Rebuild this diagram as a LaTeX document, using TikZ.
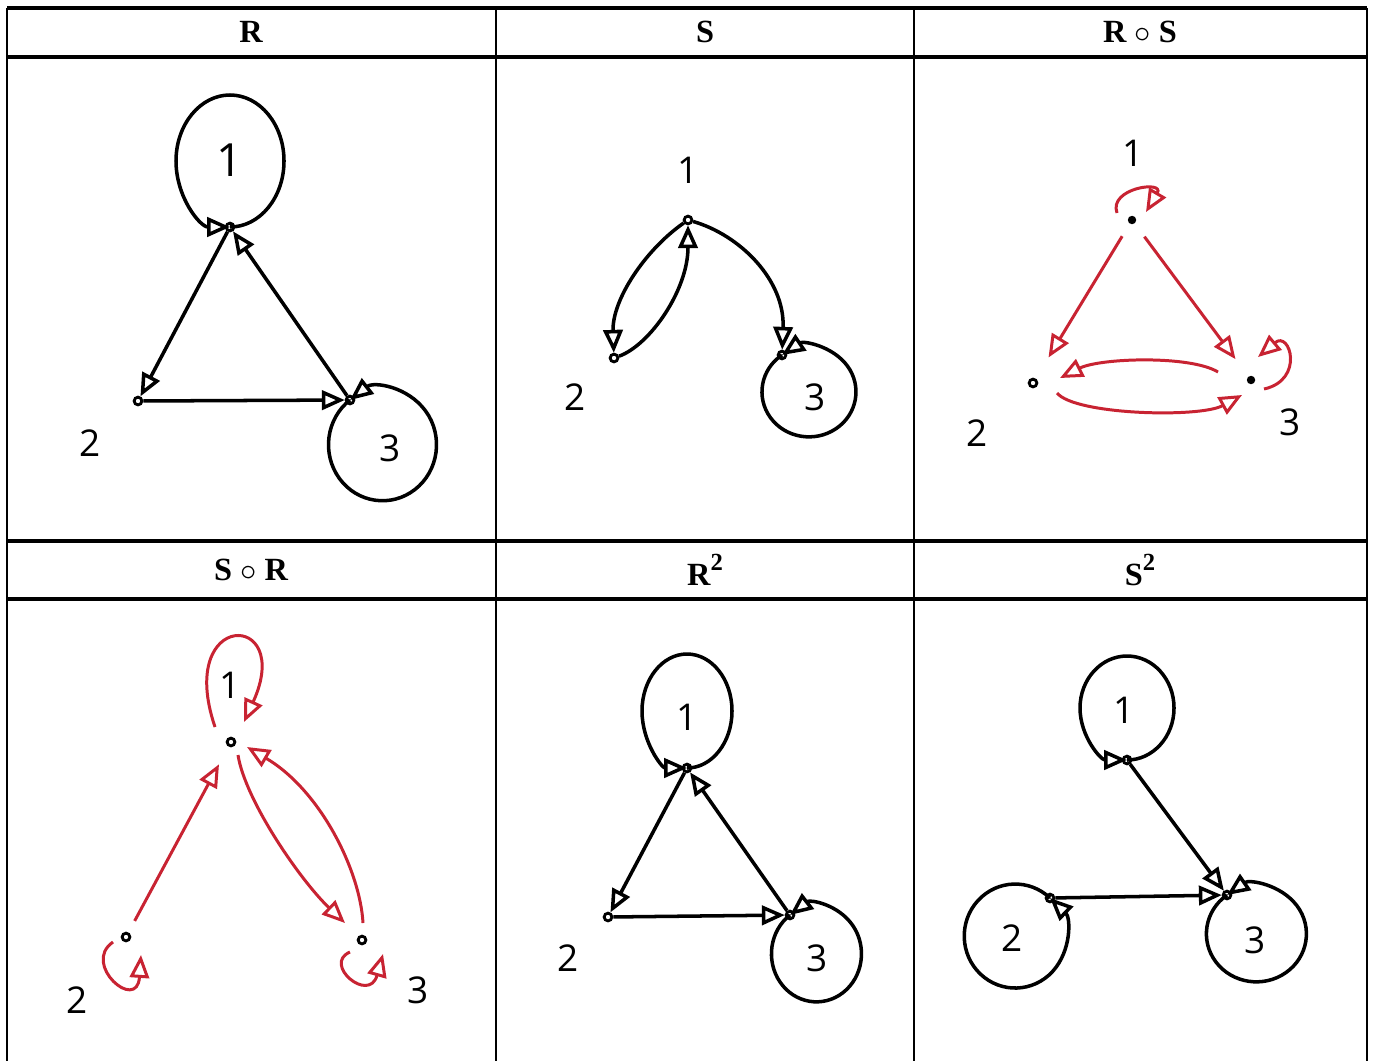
\documentclass[tikz,border=0pt]{standalone}
\usepackage{fontspec}
\setmainfont{Liberation Serif}
\newfontfamily\handfont{Open Sans}
\usetikzlibrary{arrows.meta}
\definecolor{relRed}{RGB}{200,35,50}
\tikzset{
  tablerule/.style={line width=0.6pt},
  headtext/.style={font=\bfseries\fontsize{9.2}{11}\selectfont},
  lbl/.style={font=\handfont\fontsize{10.5}{12}\selectfont},
  vtx/.style={circle, draw, line width=0.8pt, inner sep=0pt, minimum size=2.2pt},
  dotv/.style={circle, fill, inner sep=0pt, minimum size=2.4pt},
  relarrow/.style={line width=1pt, -{Triangle[open,length=6.5pt,width=5.5pt]}},
  redarrow/.style={relarrow, draw=relRed, line width=0.85pt}
}
\begin{document}
\begin{tikzpicture}[x=0.01cm, y=-0.01cm]
  \fill[white] (0,0) rectangle (1374,1061);
  % table rules
  \foreach \y in {8,57,541,599}
    \draw[tablerule, line width=0.9pt] (7,\y) -- (1367,\y);
  \foreach \x in {7,496,914,1367}
    \draw[tablerule] (\x,8) -- (\x,1061);
  % headers
  \node[headtext] (hR) at (251,32) {R};
  \node[headtext] (hS) at (705,32) {S};
  \node[headtext] (hRS) at (1140,32) {R $\circ$ S};
  \node[headtext] (hSR) at (251,570) {S $\circ$ R};
  \node[headtext] (hRR) at (705,570) {R\raisebox{0.45em}{\fontsize{7}{8}\selectfont 2}};
  \node[headtext] (hSS) at (1140,570) {S\raisebox{0.45em}{\fontsize{7}{8}\selectfont 2}};

  % R
  \node[vtx] (r1) at (230,227) {};
  \node[vtx] (r2) at (138,401) {};
  \node[vtx] (r3) at (350,400) {};
  \node[lbl, font=\handfont\fontsize{13}{15}\selectfont] (r1l) at (230,160) {1};
  \node[lbl] (r2l) at (90,443) {2};
  \node[lbl] (r3l) at (390,448) {3};
  \draw[relarrow] (r1) arc[start angle=90, end angle=-270, x radius=54, y radius=66];
  \draw[relarrow] (r3) arc[start angle=233, end angle=-127, x radius=54, y radius=56];
  \draw[relarrow] (r1) -- (r2);
  \draw[relarrow] (r2) -- (r3);
  \draw[relarrow] (r3) -- (r1);

  % S
  \node[vtx] (s1) at (688,220) {};
  \node[vtx] (s2) at (614,358) {};
  \node[vtx] (s3) at (782,355) {};
  \node[lbl] (s1l) at (688,170) {1};
  \node[lbl] (s2l) at (575,397) {2};
  \node[lbl] (s3l) at (815,397) {3};
  \draw[relarrow] (s1) .. controls (645,250) and (612,300) .. (s2);
  \draw[relarrow] (s2) .. controls (650,345) and (688,290) .. (s1);
  \draw[relarrow] (s1) .. controls (740,235) and (785,280) .. (s3);
  \draw[relarrow] (s3) arc[start angle=235, end angle=-125, x radius=47, y radius=45];

  % R o S
  \node[dotv] (rs1) at (1132,220) {};
  \node[vtx] (rs2) at (1033,383) {};
  \node[dotv] (rs3) at (1251,380) {};
  \node[lbl] (rs1l) at (1133,153) {1};
  \node[lbl] (rs2l) at (977,433) {2};
  \node[lbl] (rs3l) at (1290,422) {3};
  \draw[redarrow] ([shift={(-15,-7)}]rs1.center) .. controls +(-9,-25) and +(19,-32) .. ([shift={(14,-8)}]rs1.center);
  \draw[redarrow, shorten <=4pt, shorten >=7pt] (rs1) -- (rs2);
  \draw[redarrow, shorten <=4.5pt, shorten >=6pt] (rs1) -- (rs3);
  \draw[redarrow] ([shift={(-33,-8)}]rs3.center) .. controls +(-28,-17) and +(40,-20) .. ([shift={(27,-5)}]rs2.center);
  \draw[redarrow] ([shift={(24,10)}]rs2.center) .. controls +(18,22) and +(-42,23) .. ([shift={(-9,15)}]rs3.center);
  \draw[redarrow] ([shift={(13,9)}]rs3.center) .. controls +(41,-9) and +(32,-27) .. ([shift={(7,-23)}]rs3.center);

  % S o R
  \node[vtx] (sr1) at (231,742) {};
  \node[vtx] (sr2) at (126,937) {};
  \node[vtx] (sr3) at (362,940) {};
  \node[lbl] (sr1l) at (230,685) {1};
  \node[lbl] (sr2l) at (77,1000) {2};
  \node[lbl] (sr3l) at (418,990) {3};
  \draw[redarrow] ([shift={(-16,-15)}]sr1.center) .. controls +(-40,-118) and +(51,-112) .. ([shift={(13,-20)}]sr1.center);
  \draw[redarrow] ([shift={(-13,5)}]sr2.center) .. controls +(-32,22) and +(-4,58) .. ([shift={(15,18)}]sr2.center);
  \draw[redarrow] ([shift={(-12,12)}]sr3.center) .. controls +(-28,12) and +(-14,50) .. ([shift={(21,14)}]sr3.center);
  \draw[redarrow, shorten <=3.7pt, shorten >=5.7pt] (sr2) -- (sr1);
  \draw[redarrow] ([shift={(7,13)}]sr1.center) .. controls +(7,45) and +(-45,-43) .. ([shift={(-17,-17)}]sr3.center);
  \draw[redarrow] ([shift={(1,-17)}]sr3.center) .. controls +(-3,-53) and +(73,43) .. ([shift={(16,5)}]sr1.center);

  % R^2
  \node[vtx] (rr1) at (687,768) {};
  \node[vtx] (rr2) at (608,917) {};
  \node[vtx] (rr3) at (790,915) {};
  \node[lbl] (rr1l) at (687,717) {1};
  \node[lbl] (rr2l) at (568,958) {2};
  \node[lbl] (rr3l) at (817,958) {3};
  \draw[relarrow] (rr1) arc[start angle=90, end angle=-270, x radius=45, y radius=57];
  \draw[relarrow] (rr3) arc[start angle=234, end angle=-126, x radius=45, y radius=48];
  \draw[relarrow] (rr1) -- (rr2);
  \draw[relarrow] (rr2) -- (rr3);
  \draw[relarrow] (rr3) -- (rr1);

  % S^2
  \node[vtx] (ss1) at (1127,760) {};
  \node[vtx] (ss2) at (1050,898) {};
  \node[vtx] (ss3) at (1227,895) {};
  \node[lbl] (ss1l) at (1124,710) {1};
  \node[lbl] (ss2l) at (1012,938) {2};
  \node[lbl] (ss3l) at (1255,940) {3};
  \draw[relarrow] (ss1) arc[start angle=90, end angle=-270, x radius=47, y radius=52];
  \draw[relarrow] (ss2) arc[start angle=313, end angle=-47, x radius=51, y radius=52];
  \draw[relarrow] (ss3) arc[start angle=234, end angle=-126, x radius=50, y radius=48];
  \draw[relarrow] (ss1) -- (ss3);
  \draw[relarrow] (ss2) -- (ss3);
\end{tikzpicture}
\end{document}
